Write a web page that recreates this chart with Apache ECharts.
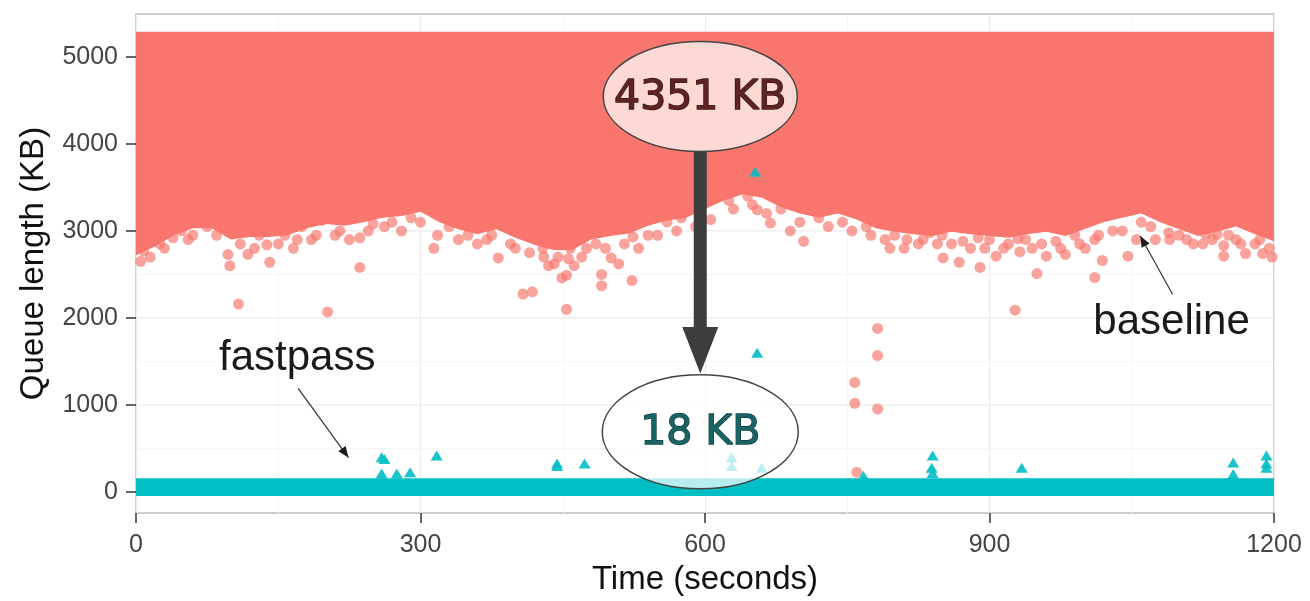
<!DOCTYPE html>
<html>
<head>
<meta charset="utf-8">
<script src="https://cdn.jsdelivr.net/npm/echarts@6/dist/echarts.min.js"></script>
<style>
html, body { margin: 0; padding: 0; background: #fff; }
#chart { width: 1310px; height: 601px; }
</style>
</head>
<body>
<div id="chart"></div>
<script>
var xTicks = [0, 300, 600, 900, 1200];
var yTicks = [0, 1000, 2000, 3000, 4000, 5000];
var yMinor = [500, 1500, 2500, 3500, 4500];

// baseline: outline of the dense cloud of samples
var cloudTime = [0, 20, 40, 60, 80, 100, 120, 140, 160, 180, 200, 220, 240, 260, 280, 300,
  320, 340, 360, 380, 400, 420, 440, 460, 480, 500, 520, 540, 560, 580, 600,
  620, 640, 660, 680, 700, 720, 740, 760, 780, 800, 820, 840, 860, 880, 900,
  920, 940, 960, 980, 1000, 1020, 1040, 1060, 1080, 1100, 1120, 1140, 1160, 1180, 1200];
var cloudLow = [2720, 2820, 2950, 3030, 3030, 2900, 2930, 2930, 2950, 3030, 3080, 3060, 3100, 3150, 3170, 3220,
  3100, 3020, 2960, 3020, 2920, 2840, 2780, 2780, 2900, 2940, 2970, 3060, 3120, 3150, 3250,
  3350, 3420, 3380, 3270, 3200, 3150, 3200, 3130, 3030, 2990, 2960, 2940, 2990, 2960, 2940,
  2920, 2960, 2990, 2940, 3020, 3100, 3150, 3200, 3100, 3020, 2940, 2990, 3050, 2960, 2880];
var cloudTopTime = [0, 1200];
var cloudTop = [5285, 5285];

// baseline samples lying outside the cloud
var baseOut = [
  [8, 2770], [15, 2700], [25, 2850], [39, 2920], [48, 3000], [60, 2950], [75, 3050],
  [97, 2730], [99, 2600], [108, 2160], [118, 2730], [130, 2950], [138, 2840], [141, 2640],
  [157, 2950], [166, 2800], [175, 3050], [185, 2900], [196, 3120], [202, 2070], [215, 3000],
  [236, 2920], [236, 2580], [250, 3080], [270, 3100], [290, 3150], [314, 2800], [330, 3050],
  [350, 2950], [370, 2900], [382, 2690], [395, 2850], [408, 2275], [418, 2300], [429, 2800],
  [430, 2700], [441, 2620], [449, 2460], [454, 2490], [454, 2100], [456, 2680], [458, 2800],
  [470, 2700], [485, 2850], [491, 2500], [491, 2370], [501, 2690], [509, 2620], [523, 2430],
  [524, 2930], [540, 2950], [560, 3100], [575, 3150], [606, 3130], [625, 3350], [645, 3400],
  [655, 3240], [669, 3090], [680, 3250], [690, 3000], [704, 2880], [720, 3150], [745, 3100],
  [758, 1260], [758, 1020], [760, 230], [770, 3050], [782, 1880], [782, 1570], [782, 955],
  [790, 2900], [800, 2950], [813, 2900], [825, 2850], [837, 2980], [850, 2950], [851, 2690],
  [868, 2640], [872, 2880], [888, 2920], [890, 2580], [900, 2900], [907, 2710], [920, 2850],
  [927, 2090], [930, 2910], [932, 2760], [945, 2800], [950, 2510], [960, 2710], [970, 2880],
  [980, 2730], [990, 2950], [1001, 2800], [1011, 2900], [1011, 2465], [1019, 2660],
  [1030, 3000], [1046, 2710], [1060, 3100], [1075, 2900], [1089, 2980], [1100, 2950],
  [1115, 2850], [1128, 2960], [1140, 2960], [1147, 2830], [1147, 2710], [1160, 2900],
  [1170, 2740], [1180, 2850], [1188, 2740], [1195, 2800],
  [5, 2650], [30, 2800], [55, 2900], [85, 2950], [110, 2850], [125, 2800], [150, 2850],
  [170, 2900], [190, 2950], [210, 2950], [225, 2900], [245, 3000], [262, 3050], [280, 3000],
  [300, 3100], [318, 2950], [340, 2900], [360, 2850], [375, 2950], [400, 2800], [415, 2750],
  [435, 2600], [445, 2700], [462, 2600], [475, 2800], [495, 2800], [515, 2850], [530, 2800],
  [550, 2950], [570, 3000], [590, 3050], [630, 3250], [650, 3300], [665, 3200], [700, 3100],
  [730, 3050], [755, 3000], [775, 2950], [795, 2800], [810, 2800], [830, 2900], [845, 2850],
  [860, 2850], [880, 2800], [895, 2800], [915, 2800], [938, 2900], [955, 2850], [975, 2800],
  [995, 2850], [1015, 2950], [1040, 3000], [1055, 2900], [1070, 3050], [1090, 2900],
  [1108, 2900], [1125, 2850], [1135, 2900], [1152, 2950], [1165, 2850], [1185, 2900], [1198, 2700]
];

// fastpass: band of samples near zero and the few higher ones
var fastTime = [0, 1200];
var fastLow = [-45, -45];
var fastTop = [160, 160];
var fastOut = [
  [259, 400], [262, 380], [259, 215], [275, 215], [289, 230], [317, 420], [444, 300],
  [444, 330], [473, 330], [628, 400], [628, 300], [653, 3680], [655, 1600], [660, 280],
  [767, 190], [840, 420], [839, 280], [840, 220], [934, 280], [1157, 340], [1157, 210],
  [1192, 420], [1192, 330], [1192, 280]
];

var red = '#F8766D';
var cyan = '#00BFC4';
var font = '"Liberation Sans", Arial, sans-serif';

function band(times, low, topTimes, top, color) {
  return function (params, api) {
    var pts = [];
    for (var i = 0; i < times.length; i++) pts.push(api.coord([times[i], low[i]]));
    for (var j = topTimes.length - 1; j >= 0; j--) pts.push(api.coord([topTimes[j], top[j]]));
    return { type: 'polygon', shape: { points: pts }, style: { fill: color } };
  };
}

function hLine(color) {
  return function (params, api) {
    var a = api.coord([0, api.value(1)]);
    var b = api.coord([1200, api.value(1)]);
    return { type: 'line', shape: { x1: a[0], y1: a[1], x2: b[0], y2: b[1] },
      style: { stroke: color, lineWidth: 1.3 } };
  };
}

function plain(v) { return String(v); }

var chart = echarts.init(document.getElementById('chart'));

var option = {
  backgroundColor: '#fff',
  animation: false,
  grid: {
    left: 136, right: 36, top: 14, bottom: 83,
    show: true, borderColor: '#bdbdbd', borderWidth: 1.5, backgroundColor: '#fff'
  },
  xAxis: {
    type: 'value', min: 0, max: 1200, interval: 300,
    name: 'Time (seconds)', nameLocation: 'middle', nameGap: 46,
    nameTextStyle: { fontFamily: font, fontSize: 33, color: '#111' },
    axisLine: { show: false, onZero: false },
    axisTick: { show: true, length: 10, lineStyle: { color: '#333', width: 1.5 } },
    axisLabel: { fontFamily: font, fontSize: 25, color: '#444', margin: 20, formatter: plain },
    splitLine: { show: true, lineStyle: { color: '#ececec', width: 1.3 } },
    minorTick: { show: false, splitNumber: 2 },
    minorSplitLine: { show: true, lineStyle: { color: '#f6f6f6', width: 1 } }
  },
  yAxis: {
    type: 'value', min: -240, max: 5490,
    name: 'Queue length (KB)', nameLocation: 'middle', nameGap: 86,
    nameTextStyle: { fontFamily: font, fontSize: 33, color: '#111' },
    axisLine: { show: false, onZero: false },
    axisTick: { show: true, length: 10, customValues: yTicks, lineStyle: { color: '#333', width: 1.5 } },
    axisLabel: { fontFamily: font, fontSize: 25, color: '#444', margin: 18, customValues: yTicks, formatter: plain },
    splitLine: { show: false }
  },
  series: [
    {
      type: 'custom', z: 1, silent: true,
      data: yMinor.map(function (v) { return [0, v]; }),
      renderItem: hLine('#f6f6f6')
    },
    {
      type: 'custom', z: 1, silent: true,
      data: yTicks.map(function (v) { return [0, v]; }),
      renderItem: hLine('#ececec')
    },
    {
      name: 'baseline', type: 'custom', z: 2, silent: true,
      data: [[0, 0]],
      renderItem: band(cloudTime, cloudLow, cloudTopTime, cloudTop, red)
    },
    {
      name: 'baseline', type: 'scatter', z: 3, symbol: 'circle', symbolSize: 11,
      itemStyle: { color: red, opacity: 0.68 },
      data: baseOut
    },
    {
      name: 'fastpass', type: 'custom', z: 4, silent: true,
      data: [[0, 0]],
      renderItem: band(fastTime, fastLow, fastTime, fastTop, cyan)
    },
    {
      name: 'fastpass', type: 'scatter', z: 5, symbol: 'triangle', symbolSize: [12, 10],
      itemStyle: { color: cyan, opacity: 0.9 },
      data: fastOut
    }
  ]
};

chart.setOption(option);

function P(t, v) { return chart.convertToPixel({ gridIndex: 0 }, [t, v]); }

var topC = P(595, 4544), botC = P(595, 693);
var shaftTop = P(595, 3920), headTop = P(595, 1897), tip = P(595, 1363);
var fpText = P(170, 1534), blText = P(1092, 1948);
var fpFrom = P(171, 1193), fpTo = P(224, 398);
var blFrom = P(1093, 2272), blTo = P(1059, 2942);

function headPts(from, to, len, half) {
  var dx = to[0] - from[0], dy = to[1] - from[1];
  var d = Math.sqrt(dx * dx + dy * dy);
  var ux = dx / d, uy = dy / d;
  var bx = to[0] - ux * len, by = to[1] - uy * len;
  return [[to[0], to[1]], [bx - uy * half, by + ux * half], [bx + uy * half, by - ux * half]];
}

chart.setOption({
  graphic: [
    { type: 'rect', z: 50, shape: { x: shaftTop[0] - 6.5, y: shaftTop[1], width: 13, height: headTop[1] - shaftTop[1] + 2 },
      style: { fill: '#3d3d3d' } },
    { type: 'polygon', z: 50, shape: { points: [[headTop[0] - 18, headTop[1]], [headTop[0] + 18, headTop[1]], [tip[0], tip[1]]] },
      style: { fill: '#3d3d3d' } },
    { type: 'ellipse', z: 60, shape: { cx: topC[0], cy: topC[1], rx: 97, ry: 55 },
      style: { fill: 'rgba(255,255,255,0.72)', stroke: '#444', lineWidth: 1.5 } },
    { type: 'text', z: 61, x: topC[0], y: topC[1] + 2,
      style: { text: '4351 KB', fill: '#5e2422', stroke: '#3b1716', lineWidth: 1.4,
        fontFamily: '"DejaVu Sans", sans-serif', fontSize: 41, align: 'center', verticalAlign: 'middle' } },
    { type: 'ellipse', z: 60, shape: { cx: botC[0], cy: botC[1], rx: 98, ry: 57 },
      style: { fill: 'rgba(255,255,255,0.72)', stroke: '#444', lineWidth: 1.5 } },
    { type: 'text', z: 61, x: botC[0], y: botC[1] + 2,
      style: { text: '18 KB', fill: '#1b6466', stroke: '#0d3d3e', lineWidth: 1.4,
        fontFamily: '"DejaVu Sans", sans-serif', fontSize: 41, align: 'center', verticalAlign: 'middle' } },
    { type: 'text', z: 61, x: fpText[0], y: fpText[1],
      style: { text: 'fastpass', fill: '#1a1a1a', fontFamily: font, fontSize: 42, align: 'center', verticalAlign: 'middle' } },
    { type: 'text', z: 61, x: blText[0], y: blText[1],
      style: { text: 'baseline', fill: '#1a1a1a', fontFamily: font, fontSize: 42, align: 'center', verticalAlign: 'middle' } },
    { type: 'line', z: 61, shape: { x1: fpFrom[0], y1: fpFrom[1], x2: fpTo[0], y2: fpTo[1] },
      style: { stroke: '#333', lineWidth: 1.2 } },
    { type: 'polygon', z: 61, shape: { points: headPts(fpFrom, fpTo, 11, 4.5) }, style: { fill: '#1a1a1a' } },
    { type: 'line', z: 61, shape: { x1: blFrom[0], y1: blFrom[1], x2: blTo[0], y2: blTo[1] },
      style: { stroke: '#333', lineWidth: 1.2 } },
    { type: 'polygon', z: 61, shape: { points: headPts(blFrom, blTo, 11, 4.5) }, style: { fill: '#1a1a1a' } }
  ]
});

window.addEventListener('resize', function () {
  chart.resize();
});
</script>
</body>
</html>
